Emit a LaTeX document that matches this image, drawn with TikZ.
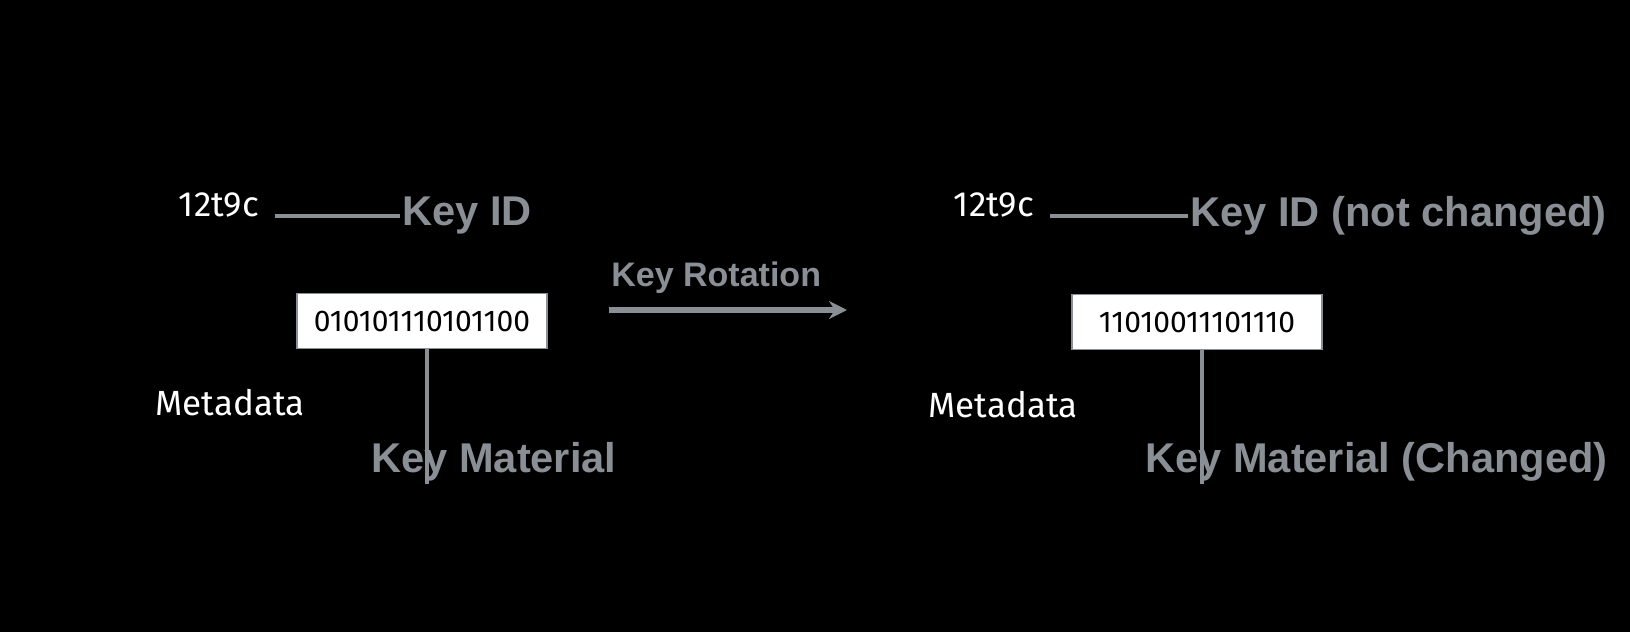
\documentclass[tikz,border=0pt]{standalone}
\usepackage{fontspec}
\setmainfont{Fira Sans}
\newfontfamily\greyfont{Liberation Sans}
\usetikzlibrary{arrows.meta, positioning}
\definecolor{keygrey}{RGB}{138,143,150}
\begin{document}
\begin{tikzpicture}[
  x=0.5pt, y=-0.5pt,
  keybox/.style={
    rectangle, draw=keygrey, line width=0.6pt, fill=white,
    minimum width=125pt, minimum height=27.5pt,
    font=\fontsize{15}{17}\selectfont, text=black
  },
  hand/.style={font=\fontsize{17.5}{20}\selectfont, text=white, inner sep=2pt},
  greylbl/.style={font=\greyfont\bfseries\fontsize{20.8}{24}\selectfont, text=keygrey, inner sep=1pt},
  conn/.style={line width=1.6pt, keygrey},
  arr/.style={-{Stealth[length=9pt, width=9pt]}, line width=3.2pt, keygrey}
]

%% background and frame
\fill[black] (0,0) rectangle (1630,632);
\useasboundingbox (0,0) rectangle (1630,632);

%% Before rotation
\node[keybox] (bits1) at (422,321) {010101110101100};
\node[hand] (kid1) at (219,205) {12t9c};
\node[hand] (meta1) at (230,403) {Metadata};
\node[greylbl, anchor=west] (idlbl1) at (400,216) {Key ID};
\node[greylbl, anchor=west] (mat1) at (369,462) {Key Material};

\draw[conn, shorten <=6pt] (kid1.east |- idlbl1.west) -- (idlbl1.west);
\draw[conn] ([xshift=2.5pt]bits1.south) -- ([xshift=2.5pt]bits1.south |- mat1.south);

%% Rotation arrow
\coordinate (rotL) at (609,310);
\coordinate (rotR) at (847,310);
\draw[arr] (rotL) -- (rotR);
\node[greylbl, font=\greyfont\bfseries\fontsize{17}{20}\selectfont,
  anchor=south west] (rotlbl) at (609,296) {Key Rotation};

%% After rotation
\node[keybox] (bits2) at (1197,322) {11010011101110};
\node[hand] (kid2) at (994,205) {12t9c};
\node[hand] (meta2) at (1003,405) {Metadata};
\node[greylbl, anchor=west] (idlbl2) at (1188,216) {Key ID (not changed)};
\node[greylbl, anchor=west] (mat2) at (1143,462) {Key Material (Changed)};

\draw[conn, shorten <=6pt] (kid2.east |- idlbl2.west) -- (idlbl2.west);
\draw[conn] ([xshift=2.5pt]bits2.south) -- ([xshift=2.5pt]bits2.south |- mat2.south);

\end{tikzpicture}
\end{document}
